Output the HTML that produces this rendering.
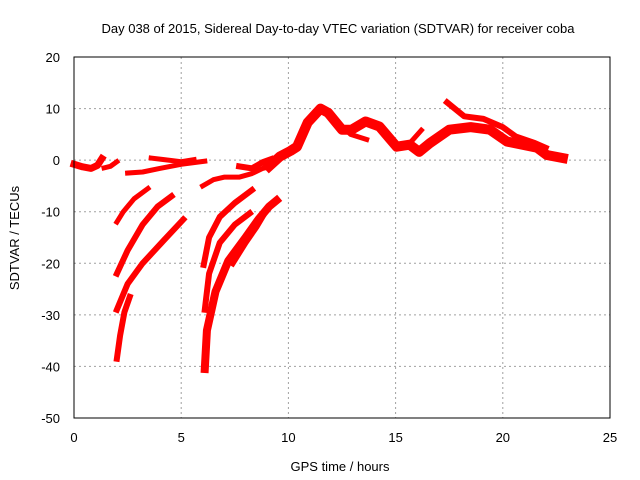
<!DOCTYPE html>
<html><head><meta charset="utf-8"><style>
body{margin:0;background:#fff;}
svg{display:block;font-family:"Liberation Sans",sans-serif;font-size:13px;}
</style></head><body>
<svg id="chart" width="640" height="480" xmlns="http://www.w3.org/2000/svg">
<rect width="640" height="480" fill="#fff"/>
<g id="grid"></g>
<g id="series"></g>
<rect x="74" y="57" width="536" height="361" fill="none" stroke="#000" stroke-width="1"/>
<g id="ticks"></g>
<text x="338" y="33" text-anchor="middle">Day 038 of 2015, Sidereal Day-to-day VTEC variation (SDTVAR) for receiver coba</text>
<text x="340" y="471" text-anchor="middle">GPS time / hours</text>
<text x="19" y="238" text-anchor="middle" transform="rotate(-90 19 238)">SDTVAR / TECUs</text>
</svg>
<script>
const xTicks=[0,5,10,15,20,25];
const yTicks=[20,10,0,-10,-20,-30,-40,-50];
const segA=[[0,-0.8],[0.4,-1.3],[0.8,-1.6],[1.1,-1.0],[1.3,0.3]];
const segB=[[1.4,-1.5],[1.7,-1.2],[2.0,-0.3]];
const segC=[[2.5,-2.5],[3.2,-2.3],[4.0,-1.6],[5.0,-0.8],[6.1,-0.2]];
const segD=[[3.6,0.4],[4.2,0.1],[5.0,-0.3],[5.6,0.1]];
const arc1=[[2.0,-12],[2.3,-10],[2.8,-7.5],[3.45,-5.5]];
const arc2=[[2.0,-22],[2.5,-17.5],[3.2,-12.5],[3.9,-9],[4.55,-7]];
const arc3=[[2.0,-29],[2.5,-24],[3.2,-20],[4.2,-15.5],[5.1,-11.5]];
const arc4=[[2.0,-38.5],[2.15,-34],[2.35,-29.5],[2.6,-26.5]];
const arc5=[[6.05,-20.3],[6.3,-15],[6.8,-11],[7.5,-8.3],[8.3,-5.8]];
const arc6=[[6.1,-29],[6.3,-22],[6.8,-16],[7.5,-12.5],[8.2,-10.3]];
const arc7=[[6.1,-40.5],[6.2,-33],[6.6,-25.5],[7.2,-19.5],[8.0,-15],[8.6,-11.5],[9.1,-9],[9.45,-7.8]];
const arc8=[[7.4,-20],[8.0,-16],[8.5,-13],[9.0,-9.5]];
const ramp=[[6.0,-5],[6.5,-3.8],[7.0,-3.3],[7.7,-3.3],[8.3,-2.6],[8.8,-1.6],[9.2,-1.2]];
const segE=[[7.7,-1.2],[8.3,-1.6],[8.8,-0.4],[9.2,0.2]];
const main=[[9.1,-1.2],[9.6,0.7],[10.1,1.8],[10.4,2.6],[10.9,7.3],[11.5,10],[11.85,9.2],[12.5,5.9],[12.95,5.9],[13.6,7.5],[14.25,6.5],[15.05,2.6],[15.65,3.0],[16.1,1.6],[16.6,3.3],[17.5,5.9],[18.5,6.4],[19.4,5.9],[20.2,3.6],[21.6,2.4],[22.05,1.0],[22.8,0.4]];
const brA=[[12.4,7],[12.9,5],[13.65,4]];
const brB=[[15.6,3.0],[16.2,5.8]];
const upper=[[17.4,11.2],[18.2,8.5],[19.1,8.0],[20.0,6.4],[20.6,4.6],[21.5,3.3],[22.0,2.4]];
const seriesList=[[segA,7],[segB,5],[segC,5],[segD,5],[arc1,5],[arc2,6],[arc3,6],[arc4,6],[arc5,6],[arc6,6],[arc7,8],[arc8,6],[ramp,5],[segE,6],[main,10],[brA,5],[brB,5],[upper,6]];
const X0=74,X1=610,Y0=57,Y1=418;
function xs(v){return X0+(v-0)/(25-0)*(X1-X0);}
function ys(v){return Y0+(20-v)/(20-(-50))*(Y1-Y0);}
const NS="http://www.w3.org/2000/svg";
const grid=document.getElementById('grid'),ticks=document.getElementById('ticks'),ser=document.getElementById('series');
function mk(tag,attrs,parent){const e=document.createElementNS(NS,tag);for(const k in attrs)e.setAttribute(k,attrs[k]);parent.appendChild(e);return e;}
xTicks.forEach(t=>{const x=xs(t);
 if(t>0&&t<25){const g=mk('line',{x1:x,x2:x,y1:Y0,y2:Y1,stroke:'#a0a0a0','stroke-dasharray':'2,3'},grid);
 
 }
 const l=mk('text',{x:x,y:Y1+24,'text-anchor':'middle'},ticks);l.textContent=t;
 
 
});
yTicks.forEach(t=>{const y=ys(t);
 if(t<20&&t>-50){const g=mk('line',{x1:X0,x2:X1,y1:y,y2:y,stroke:'#a0a0a0','stroke-dasharray':'2,3'},grid);
 
 }
 const l=mk('text',{x:X0-14,y:y+5,'text-anchor':'end'},ticks);l.textContent=t;
 
 
});
seriesList.forEach(([pts,w])=>{
 const p=mk('polyline',{points:pts.map(d=>xs(d[0])+','+ys(d[1])).join(' '),fill:'none',stroke:'#ff0000','stroke-width':w,'stroke-linejoin':'round','stroke-linecap':'square'},ser);
 
 
});
</script>
</body></html>
